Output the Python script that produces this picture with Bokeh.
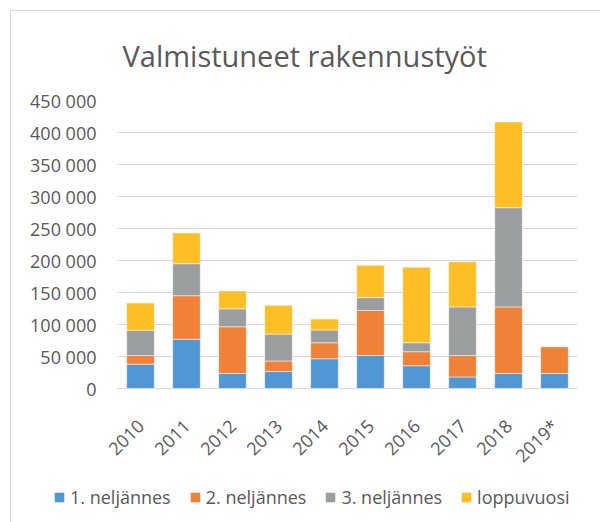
import math
from bokeh.plotting import figure
from bokeh.models import (FactorRange, Range1d, FixedTicker, Legend, LegendItem,
                          ColumnDataSource)
from bokeh.embed import file_html
from bokeh.resources import INLINE

# ---- data ----
years = ["2010", "2011", "2012", "2013", "2014", "2015", "2016", "2017", "2018", "2019*"]
q1 = [38000, 77000, 23500, 26500, 46500, 51500, 35500, 18000, 23500, 23500]
q2 = [13500, 68000, 73000, 16500, 25000, 70500, 22000, 33500, 104000, 42000]
q3 = [39500, 50000, 28000, 42000, 20000, 20000, 14000, 76000, 155000, 0]
q4 = [42500, 48000, 28000, 45000, 17000, 50500, 118000, 70500, 134000, 0]
series_names = ["1. neljännes", "2. neljännes", "3. neljännes", "loppuvuosi"]
series_keys = ["q1", "q2", "q3", "q4"]
y_ticks = [0, 50000, 100000, 150000, 200000, 250000, 300000, 350000, 400000, 450000]
y_tick_labels = ["0", "50 000", "100 000", "150 000", "200 000", "250 000",
                 "300 000", "350 000", "400 000", "450 000"]
title_text = "Valmistuneet rakennustyöt"

colors = ["#5097D3", "#F08138", "#9B9E9F", "#FEBE25"]
TXT = "#595959"
GRID = "#d9d9d9"
FONT = "Open Sans"

source = ColumnDataSource(dict(years=years, q1=q1, q2=q2, q3=q3, q4=q4))

# ---- main chart ----
p = figure(x_range=FactorRange(*years, range_padding=0),
           y_range=Range1d(0, 450000),
           frame_width=460, frame_height=288,
           output_backend="svg", toolbar_location=None,
           min_border_left=106, min_border_right=23,
           min_border_top=89, min_border_bottom=78,
           margin=(10, 0, 0, 10),
           styles={"border-left": "1px solid " + GRID, "border-top": "1px solid " + GRID})

p.vbar_stack(series_keys, x="years", width=0.6, color=colors,
             source=source, line_color="white", line_width=0.5)

p.title.text = title_text
p.title.align = "left"
p.title.vertical_align = "top"
p.title.offset = 5
p.title.standoff = 48
p.title.text_font = FONT
p.title.text_font_size = "29px"
p.title.text_font_style = "normal"
p.title.text_color = TXT

p.xaxis.major_label_orientation = math.pi / 4
p.xaxis.major_tick_line_color = None
p.xaxis.major_tick_out = 0
p.xaxis.major_tick_in = 0
p.xaxis.minor_tick_line_color = None
p.xaxis.axis_line_color = GRID
p.xaxis.major_label_text_font = FONT
p.xaxis.major_label_text_font_size = "18px"
p.xaxis.major_label_text_color = TXT
p.xaxis.major_label_standoff = 34

p.yaxis.ticker = FixedTicker(ticks=y_ticks)
p.yaxis.major_label_overrides = dict(zip(y_ticks, y_tick_labels))
p.yaxis.axis_line_color = None
p.yaxis.major_tick_line_color = None
p.yaxis.major_tick_out = 0
p.yaxis.major_tick_in = 0
p.yaxis.minor_tick_line_color = None
p.yaxis.major_label_text_font = FONT
p.yaxis.major_label_text_font_size = "18px"
p.yaxis.major_label_text_color = TXT
p.yaxis.major_label_standoff = 21

p.ygrid.grid_line_color = GRID
p.xgrid.grid_line_color = None
p.outline_line_color = None

# ---- legend strip (same series, hidden; only the legend shows) ----
lf = figure(width=589, height=56,
            x_range=FactorRange(*years), y_range=Range1d(0, 450000),
            output_backend="svg", toolbar_location=None, min_border=0,
            margin=(0, 0, 0, 10), styles={"border-left": "1px solid " + GRID})
lf.axis.visible = False
lf.grid.visible = False
lf.outline_line_color = None
swatches = lf.vbar_stack(series_keys, x="years", width=0.6, color=colors,
                         source=source, line_color=None)
for r in swatches:
    r.visible = False
legend = Legend(items=[LegendItem(label=n, renderers=[r]) for n, r in zip(series_names, swatches)],
                orientation="horizontal", location=(42, 25),
                glyph_width=12, glyph_height=12, label_standoff=5, spacing=18,
                padding=0, margin=0, border_line_color=None, background_fill_alpha=0,
                inactive_fill_alpha=0,
                label_text_font=FONT, label_text_font_size="18px", label_text_color=TXT)
lf.add_layout(legend)

open("out.html", "w").write(file_html([p, lf], INLINE))
